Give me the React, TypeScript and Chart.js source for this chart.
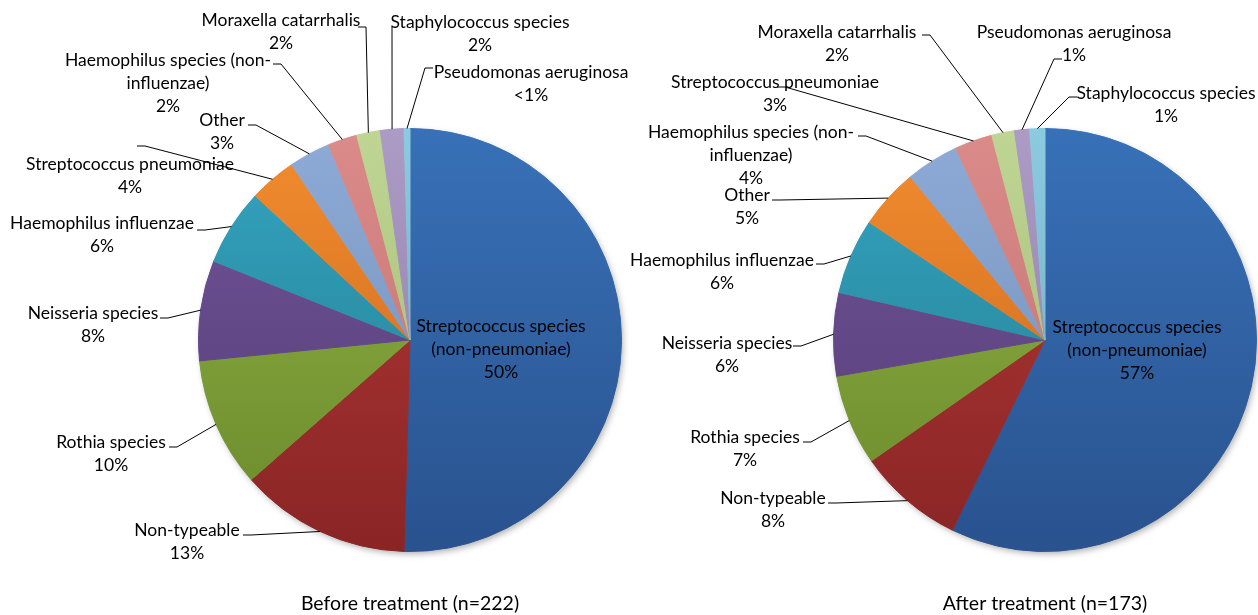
import React, { useEffect, useRef } from 'react';
import { Chart, registerables } from 'chart.js';

Chart.register(...registerables);

// ---------------- data ----------------
const beforeCategories = [
  'Streptococcus species\n(non-pneumoniae)',
  'Non-typeable',
  'Rothia species',
  'Neisseria species',
  'Haemophilus influenzae',
  'Streptococcus pneumoniae',
  'Other',
  'Haemophilus species (non-\ninfluenzae)',
  'Moraxella catarrhalis',
  'Staphylococcus species',
  'Pseudomonas aeruginosa',
];
const beforeCounts = [112, 29, 22, 17, 13, 8, 7, 5, 4, 4, 1];

const afterCategories = [
  'Streptococcus species\n(non-pneumoniae)',
  'Non-typeable',
  'Rothia species',
  'Neisseria species',
  'Haemophilus influenzae',
  'Other',
  'Haemophilus species (non-\ninfluenzae)',
  'Streptococcus pneumoniae',
  'Moraxella catarrhalis',
  'Pseudomonas aeruginosa',
  'Staphylococcus species',
];
const afterCounts = [99, 14, 12, 11, 10, 8, 7, 5, 3, 2, 2];

const beforeTitle = 'Before treatment (n=222)';
const afterTitle = 'After treatment (n=173)';

// ---------------- styles / layout ----------------
const FONT = 'Lato, "Open Sans", sans-serif';
const LABEL_SIZE = 17.5;
const TITLE_SIZE = 19.5;
const LINE_H = 23;
const HOOK = 8;

const topColors = [
  '#3871B8', '#B43838', '#90B342', '#73559B', '#35A5C1', '#F38D30',
  '#8EABD7', '#DB8C8A', '#BFD594', '#AC9BC5', '#8CCAE0',
];
const bottomColors = [
  '#29528E', '#8A2525', '#6A892D', '#523B72', '#227A8E', '#C5631A',
  '#6F8BB5', '#BC6E6C', '#9FB870', '#8C7AA6', '#6CA9C0',
];

// label layout relative to pie centre: [text centre x, first line y, leader end x, leader end y]
const beforeLabelLayout: (number | null)[][] = [
  [91, -14, null, null],
  [-223, 190, -167, 195],
  [-299, 102, -241, 107],
  [-317, -27, -250, -22],
  [-308, -117, -213, -110],
  [-280, -176, -273, -194],
  [-188, -220, -162, -215],
  [-242, -280, -137, -276],
  [-129, -320, -52, -313],
  [70, -318, -18, -313],
  [121, -268, 23, -272],
];
const afterLabelLayout: (number | null)[][] = [
  [92, -13, null, null],
  [-272, 158, -217, 163],
  [-300, 97, -242, 102],
  [-318, 3, -252, 6],
  [-323, -80, -229, -76],
  [-298, -145, -273, -140],
  [-294, -208, -187, -204],
  [-270, -258, -268, -253],
  [-208, -308, -123, -305],
  [29, -308, 17, -281],
  [121, -247, 32, -243],
];

function pctText(v: number, total: number) {
  const p = (v / total) * 100;
  return p < 0.5 ? '<1%' : Math.round(p) + '%';
}

function gradientFor(colorsTop: string[], colorsBottom: string[]) {
  return (c: any) => {
    const chart = c.chart;
    const area = chart.chartArea;
    const idx = c.dataIndex ?? 0;
    if (!area) return colorsTop[idx];
    const g = chart.ctx.createLinearGradient(0, area.top, 0, area.bottom);
    g.addColorStop(0, colorsTop[idx]);
    g.addColorStop(1, colorsBottom[idx]);
    return g;
  };
}

function makeShadowPlugin() {
  return {
    id: 'pieShadow',
    beforeDatasetsDraw(chart: any) {
      const meta = chart.getDatasetMeta(0);
      const a = meta.data[0];
      if (!a) return;
      const ctx = chart.ctx;
      ctx.save();
      ctx.beginPath();
      ctx.arc(a.x, a.y, a.outerRadius - 1, 0, Math.PI * 2);
      ctx.fillStyle = '#ffffff';
      ctx.shadowColor = 'rgba(0,0,0,0.35)';
      ctx.shadowBlur = 7;
      ctx.shadowOffsetX = 2;
      ctx.shadowOffsetY = 3;
      ctx.fill();
      ctx.restore();
    },
  };
}

function makeCalloutPlugin(layout: (number | null)[][]) {
  return {
    id: 'callouts',
    afterDatasetsDraw(chart: any) {
      const meta = chart.getDatasetMeta(0);
      const ctx = chart.ctx;
      const cats: string[] = chart.data.labels;
      const vals: number[] = chart.data.datasets[0].data;
      const total = vals.reduce((a, b) => a + b, 0);
      ctx.save();
      ctx.font = `${LABEL_SIZE}px ${FONT}`;
      ctx.fillStyle = '#000';
      ctx.strokeStyle = '#000';
      ctx.lineWidth = 1;
      ctx.textAlign = 'center';
      ctx.textBaseline = 'middle';
      meta.data.forEach((arc: any, i: number) => {
        const [tx, ty, ex, ey] = layout[i];
        const cx = arc.x;
        const cy = arc.y;
        if (ex !== null && ey !== null) {
          const mid = (arc.startAngle + arc.endAngle) / 2;
          const r = arc.outerRadius;
          const px = cx + r * Math.cos(mid);
          const py = cy + r * Math.sin(mid);
          const endX = cx + ex;
          const endY = cy + ey;
          const elbowX = endX + Math.sign(Math.round(px - endX)) * HOOK;
          ctx.beginPath();
          ctx.moveTo(px, py);
          ctx.lineTo(elbowX, endY);
          ctx.lineTo(endX, endY);
          ctx.stroke();
        }
        const lines = cats[i].split('\n').concat(pctText(vals[i], total));
        lines.forEach((ln, k) => {
          ctx.fillText(ln, cx + (tx as number), cy + (ty as number) + k * LINE_H);
        });
      });
      ctx.restore();
    },
  };
}

function buildChart(
  canvas: HTMLCanvasElement,
  categories: string[],
  counts: number[],
  title: string,
  layout: (number | null)[][],
  padLeft: number,
  padRight: number
) {
  const bg = gradientFor(topColors, bottomColors);
  return new Chart(canvas, {
    type: 'pie',
    data: {
      labels: categories,
      datasets: [
        {
          data: counts,
          backgroundColor: bg as any,
          borderColor: bg as any,
          borderWidth: 1,
          hoverOffset: 0,
        },
      ],
    },
    options: {
      responsive: false,
      animation: false,
      events: [],
      layout: { padding: { left: padLeft, right: padRight, top: 128, bottom: 0 } },
      plugins: {
        legend: { display: false },
        tooltip: { enabled: false },
        title: {
          display: true,
          text: title,
          position: 'bottom',
          color: '#000',
          font: { family: FONT, size: TITLE_SIZE, weight: 'normal', lineHeight: 1.0 },
          padding: { top: 42, bottom: 1.5 },
        },
      },
    },
    plugins: [makeShadowPlugin(), makeCalloutPlugin(layout)],
  });
}

export default function App() {
  const leftRef = useRef<HTMLCanvasElement>(null);
  const rightRef = useRef<HTMLCanvasElement>(null);

  useEffect(() => {
    const c1 = buildChart(leftRef.current!, beforeCategories, beforeCounts, beforeTitle, beforeLabelLayout, 198, 7);
    const c2 = buildChart(rightRef.current!, afterCategories, afterCounts, afterTitle, afterLabelLayout, 204, 1);
    return () => {
      c1.destroy();
      c2.destroy();
    };
  }, []);

  return (
    <div style={{ position: 'absolute', left: 0, top: 0, width: 1258, height: 615, background: '#fff' }}>
      <canvas ref={leftRef} width={629} height={615} style={{ position: 'absolute', left: 0, top: 0 }} />
      <canvas ref={rightRef} width={629} height={615} style={{ position: 'absolute', left: 629, top: 0 }} />
    </div>
  );
}
